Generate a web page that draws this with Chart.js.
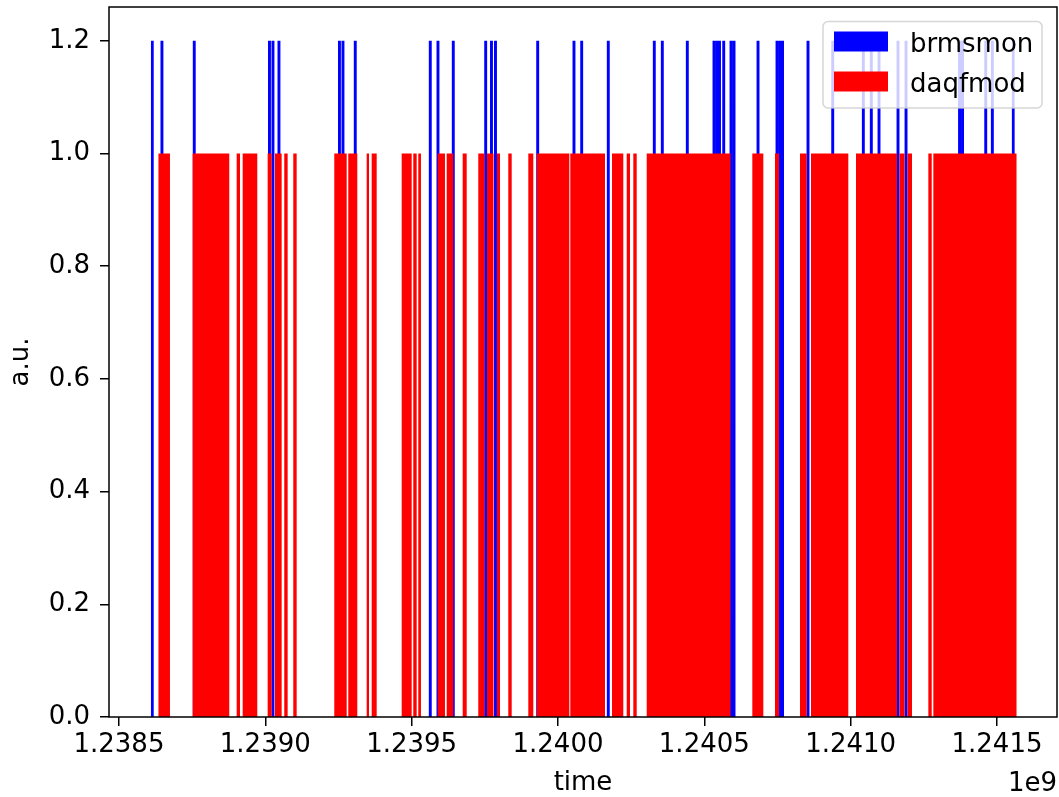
<!DOCTYPE html>
<html>
<head>
<meta charset="utf-8">
<script src="https://cdn.jsdelivr.net/npm/chart.js@4.4.1/dist/chart.umd.min.js"></script>
<style>
body { margin: 0; background: #fff; }
#wrap { width: 1059px; height: 797px; }
</style>
</head>
<body>
<div id="wrap"><canvas id="chart"></canvas></div>
<script>
// brmsmon: bar centres (unix time, s), all at 1.2
var brmsmonTimes = [
    1238613800, 1238646900, 1238757300, 1239014300, 1239026200, 1239046700,
    1239253400, 1239265400, 1239307400, 1239563700, 1239590000, 1239642300,
    1239753000, 1239772800, 1239786500, 1239930700, 1240054700, 1240081000,
    1240171900, 1240329100, 1240356500, 1240441900, 1240533100, 1240543400,
    1240551900, 1240566300, 1240591200, 1240601500, 1240683500, 1240748400,
    1240758600, 1240767200, 1240854300, 1240938700, 1241043300, 1241070600,
    1241096900, 1241161800, 1241189200, 1241372000, 1241382200, 1241461500,
    1241484100, 1241555800
];
var brmsmonHeight = 1.2;
var brmsmonWidth = 10000;

// daqfmod: busy spans [start, end] (unix time, s), all at 1.0
var daqfmodSpans = [
    [1238634300, 1238674300], [1238751800, 1238876900], [1238902200, 1238913500],
    [1238922700, 1238972600], [1239008100, 1239021800], [1239033100, 1239055900],
    [1239064800, 1239076400], [1239095600, 1239107200], [1239235700, 1239278100],
    [1239283500, 1239314300], [1239346400, 1239354300], [1239363500, 1239380600],
    [1239466000, 1239500200], [1239505600, 1239517200], [1239522700, 1239531900],
    [1239589000, 1239613900], [1239619800, 1239642300], [1239674400, 1239688100],
    [1239727700, 1239748900], [1239757500, 1239779700], [1239791600, 1239801900],
    [1239830200, 1239841900], [1239898600, 1239915700], [1239927300, 1240038700],
    [1240042100, 1240160700], [1240184600, 1240223200], [1240234800, 1240246100],
    [1240257400, 1240269000], [1240303200, 1240589500], [1240664000, 1240701600],
    [1240741600, 1240755200], [1240827000, 1240849900], [1240864600, 1240992000],
    [1241018300, 1241158400], [1241167000, 1241184100], [1241194300, 1241209700],
    [1241265400, 1241277000], [1241282500, 1241567400]
];
var daqfmodHeight = 1.0;

var xTicks = [1238500000, 1239000000, 1239500000, 1240000000, 1240500000, 1241000000, 1241500000];
var yTicks = [0, 0.2, 0.4, 0.6, 0.8, 1.0, 1.2];
var xMin = 1238466000;
var xMax = 1241705000;
var yMax = 1.26;

// rectangles as an outline the filler can close against y = 0
function spansToPoints(spans, h) {
    var pts = [];
    spans.forEach(function (s) {
        pts.push({x: s[0], y: 0}, {x: s[0], y: h}, {x: s[1], y: h}, {x: s[1], y: 0});
    });
    return pts;
}

var blueSpans = brmsmonTimes.map(function (t) {
    return [t - brmsmonWidth / 2, t + brmsmonWidth / 2];
});

var FONT = 'DejaVu Sans';

// full box round the plot area
var frame = {
    id: 'frame',
    afterDatasetsDraw: function (chart) {
        var a = chart.chartArea, ctx = chart.ctx;
        ctx.save();
        ctx.strokeStyle = '#000';
        ctx.lineWidth = 1.5;
        ctx.strokeRect(a.left, a.top, a.right - a.left, a.bottom - a.top);
        ctx.restore();
    }
};

// matplotlib style legend in the upper right, plus the 1e9 offset text
var mplLegend = {
    id: 'mplLegend',
    afterDraw: function (chart) {
        var ctx = chart.ctx;
        ctx.save();
        var x0 = 823, y0 = 21.5, w = 219, h = 86.5, r = 5;
        ctx.beginPath();
        ctx.roundRect(x0, y0, w, h, r);
        ctx.fillStyle = 'rgba(255,255,255,0.8)';
        ctx.fill();
        ctx.strokeStyle = 'rgba(204,204,204,0.8)';
        ctx.lineWidth = 1.5;
        ctx.stroke();

        ctx.font = '26px "' + FONT + '"';
        ctx.textBaseline = 'alphabetic';
        ctx.textAlign = 'left';
        chart.data.datasets.forEach(function (ds, i) {
            var cy = 41.5 + i * 40;
            ctx.fillStyle = ds.backgroundColor;
            ctx.fillRect(834, cy - 10, 54, 20);
            ctx.fillStyle = '#000';
            ctx.fillText(ds.label, 910, cy + 10);
        });

        ctx.textAlign = 'right';
        ctx.fillText('1e9', 1057, 790.5);
        ctx.restore();
    }
};

new Chart(document.getElementById('chart'), {
    type: 'line',
    data: {
        datasets: [
            {
                label: 'brmsmon',
                data: spansToPoints(blueSpans, brmsmonHeight),
                backgroundColor: '#0000ff',
                borderWidth: 0,
                fill: 'origin',
                order: 1
            },
            {
                label: 'daqfmod',
                data: spansToPoints(daqfmodSpans, daqfmodHeight),
                backgroundColor: '#ff0000',
                borderWidth: 0,
                fill: 'origin',
                order: 0
            }
        ]
    },
    options: {
        responsive: true,
        maintainAspectRatio: false,
        animation: false,
        events: [],
        elements: {
            point: { radius: 0 },
            line: { tension: 0 }
        },
        layout: { padding: { top: 7, right: 2, left: 0, bottom: 0 } },
        plugins: {
            legend: { display: false },
            tooltip: { enabled: false }
        },
        scales: {
            x: {
                type: 'linear',
                min: xMin,
                max: xMax,
                afterFit: function (scale) { scale.height = 80; },
                afterBuildTicks: function (scale) {
                    scale.ticks = xTicks.map(function (v) { return {value: v}; });
                },
                border: { display: false },
                grid: { drawOnChartArea: false, drawTicks: true, tickLength: 9, color: '#000', lineWidth: 1.5 },
                ticks: {
                    maxRotation: 0,
                    padding: 4,
                    color: '#000',
                    font: { family: FONT, size: 26 },
                    callback: function (v) { return (v / 1e9).toFixed(4); }
                },
                title: {
                    display: true,
                    text: 'time',
                    color: '#000',
                    font: { family: FONT, size: 26, lineHeight: 1 },
                    padding: { top: 0, bottom: 1 }
                }
            },
            y: {
                min: 0,
                max: yMax,
                afterFit: function (scale) {
                    scale.width = 109;
                    scale.paddingTop = 0;
                    scale.paddingBottom = 0;
                },
                afterBuildTicks: function (scale) {
                    scale.ticks = yTicks.map(function (v) { return {value: v}; });
                },
                border: { display: false },
                grid: { drawOnChartArea: false, drawTicks: true, tickLength: 9, color: '#000', lineWidth: 1.5 },
                ticks: {
                    padding: 10,
                    color: '#000',
                    font: { family: FONT, size: 26 },
                    callback: function (v) { return v.toFixed(1); }
                },
                title: {
                    display: true,
                    text: 'a.u.',
                    color: '#000',
                    font: { family: FONT, size: 26, lineHeight: 1 },
                    padding: { top: 8, bottom: 0 }
                }
            }
        }
    },
    plugins: [frame, mplLegend]
});
</script>
</body>
</html>
